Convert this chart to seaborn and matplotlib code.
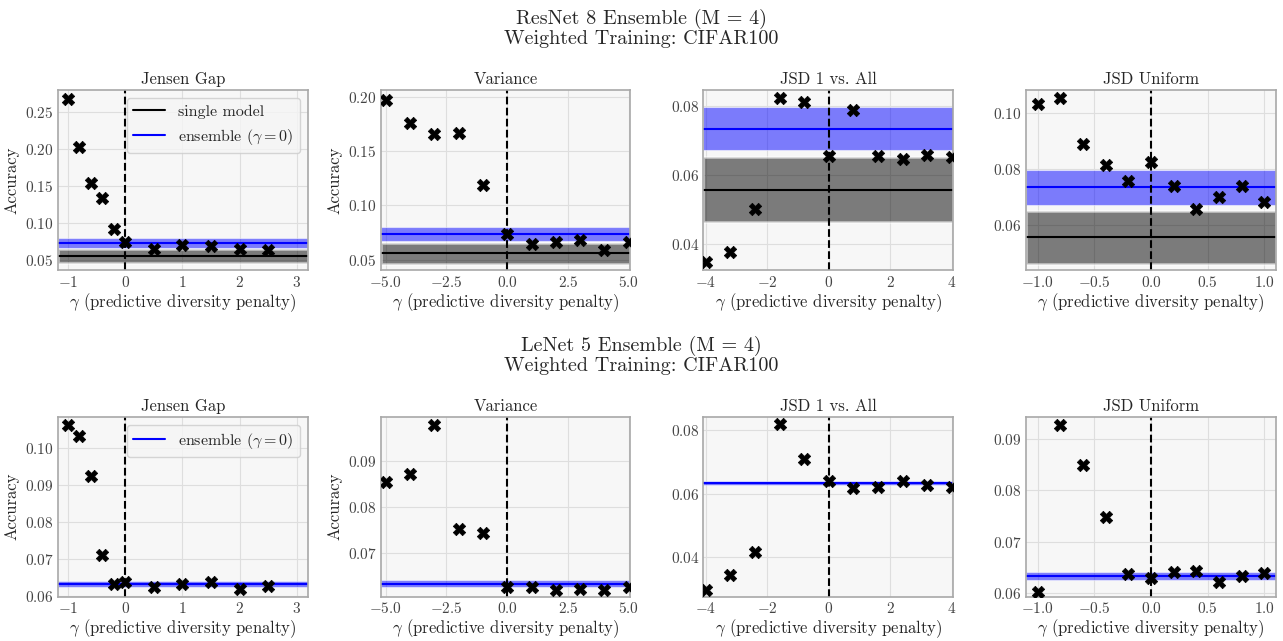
import matplotlib
matplotlib.use("Agg")
import matplotlib.pyplot as plt
import numpy as np
import seaborn as sns

# gamma grids per penalty
jensen_gammas = [-1.0, -0.8, -0.6, -0.4, -0.2, 0.0, 0.5, 1.0, 1.5, 2.0, 2.5]
variance_gammas = [-5, -4, -3, -2, -1, 0, 1, 2, 3, 4, 5]
jsd1_gammas = [-4.0, -3.2, -2.4, -1.6, -0.8, 0.0, 0.8, 1.6, 2.4, 3.2, 4.0]
jsdu_gammas = [-1.0, -0.8, -0.6, -0.4, -0.2, 0.0, 0.2, 0.4, 0.6, 0.8, 1.0]

# ResNet 8 accuracies
resnet_jensen = [0.268, 0.2034, 0.1545, 0.1348, 0.0922, 0.0751, 0.0661, 0.0706, 0.0697, 0.0661, 0.0648]
resnet_variance = [0.197, 0.1764, 0.1663, 0.1669, 0.1189, 0.0739, 0.0647, 0.0662, 0.0681, 0.0589, 0.0662]
resnet_jsd1 = [0.0347, 0.0377, 0.0503, 0.0824, 0.0813, 0.0657, 0.0790, 0.0657, 0.0647, 0.0658, 0.0654]
resnet_jsdu = [0.1033, 0.1053, 0.0892, 0.0814, 0.0757, 0.0826, 0.0741, 0.0659, 0.0700, 0.0741, 0.0685]

# LeNet 5 accuracies
lenet_jensen = [0.1064, 0.1032, 0.0924, 0.0711, 0.0633, 0.0638, 0.0625, 0.0633, 0.0639, 0.0620, 0.0628]
lenet_variance = [0.0854, 0.0871, 0.0978, 0.0752, 0.0742, 0.0626, 0.0626, 0.0620, 0.0621, 0.0620, 0.0625]
lenet_jsd1 = [0.0296, 0.0342, 0.0415, 0.0819, 0.0709, 0.0641, 0.0618, 0.0622, 0.0640, 0.0628, 0.0621]
lenet_jsdu = [0.0601, 0.0928, 0.0849, 0.0749, 0.0637, 0.0629, 0.0640, 0.0643, 0.0622, 0.0633, 0.0639]

# baselines (mean, std)
resnet_single = (0.0558, 0.0095)
resnet_ensemble = (0.0736, 0.0062)
lenet_ensemble = (0.0633, 0.0007)

titles = ["Jensen Gap", "Variance", "JSD 1 vs. All", "JSD Uniform"]
gammas = [jensen_gammas, variance_gammas, jsd1_gammas, jsdu_gammas]
xlims = [(-1.175, 3.19), (-5.2, 5.07), (-4.08, 4.05), (-1.103, 1.103)]
xticks = [[-1, 0, 1, 2, 3], [-5.0, -2.5, 0.0, 2.5, 5.0], [-4, -2, 0, 2, 4], [-1.0, -0.5, 0.0, 0.5, 1.0]]

rows = [
    dict(name="ResNet 8 Ensemble (M = 4)", accs=[resnet_jensen, resnet_variance, resnet_jsd1, resnet_jsdu],
         single=resnet_single, ensemble=resnet_ensemble,
         ylims=[(0.0365, 0.280), (0.0399, 0.2067), (0.0323, 0.0848), (0.0439, 0.1083)],
         yticks=[[0.05, 0.10, 0.15, 0.20, 0.25], [0.05, 0.10, 0.15, 0.20], [0.04, 0.06, 0.08], [0.06, 0.08, 0.10]]),
    dict(name="LeNet 5 Ensemble (M = 4)", accs=[lenet_jensen, lenet_variance, lenet_jsd1, lenet_jsdu],
         single=None, ensemble=lenet_ensemble,
         ylims=[(0.0598, 0.1086), (0.0604, 0.0996), (0.0273, 0.0844), (0.0592, 0.0944)],
         yticks=[[0.06, 0.07, 0.08, 0.09, 0.10], [0.07, 0.08, 0.09], [0.04, 0.06, 0.08], [0.06, 0.07, 0.08, 0.09]]),
]

sns.set_style("whitegrid", rc={
    "axes.facecolor": "#f7f7f7",
    "axes.edgecolor": "#a8a8a8",
    "grid.color": "#dedede",
    "xtick.color": "#444444",
    "ytick.color": "#444444",
})
plt.rcParams["font.family"] = "cmr10"
plt.rcParams["mathtext.fontset"] = "cm"
plt.rcParams["axes.formatter.use_mathtext"] = True

fig, axes = plt.subplots(2, 4, figsize=(12.83, 6.41), dpi=100)
fig.subplots_adjust(left=0.0452, right=0.9945, top=0.8596, bottom=0.0686, wspace=0.292, hspace=0.809)

for r, row in enumerate(rows):
    for c in range(4):
        ax = axes[r, c]
        if row["single"] is not None:
            m, s = row["single"]
            ax.axhspan(m - s, m + s, color="black", alpha=0.5, ec="white", lw=2)
            ax.axhline(m, color="black", lw=1.5, label="single model")
        m, s = row["ensemble"]
        ax.axhspan(m - s, m + s, color="blue", alpha=0.5, ec="white", lw=0.8)
        ax.axhline(m, color="blue", lw=1.5, label=r"ensemble ($\gamma = 0$)")
        ax.axvline(0, color="black", ls="--", lw=1.5)
        sns.scatterplot(x=gammas[c], y=row["accs"][c], ax=ax, marker="X", color="black",
                        s=80, edgecolor="black", linewidth=0.5, zorder=5, legend=False)
        ax.set_xlim(*xlims[c])
        ax.set_ylim(*row["ylims"][c])
        ax.set_xticks(xticks[c])
        ax.set_yticks(row["yticks"][c])
        ax.set_title(titles[c], fontsize=12, pad=4)
        ax.set_xlabel(r"$\gamma$ (predictive diversity penalty)", fontsize=12, labelpad=1)
        if c < 2:
            ax.set_ylabel("Accuracy", fontsize=12)
        ax.tick_params(labelsize=11, length=0, pad=3)
        for sp in ax.spines.values():
            sp.set_linewidth(1.2)
        if c == 0:
            ax.legend(loc="upper right", fontsize=11.5, frameon=True, framealpha=0.8,
                      facecolor="#f5f5f5", edgecolor="#cccccc")

fig.text(0.5, 0.956, rows[0]["name"] + "\nWeighted Training: CIFAR100", ha="center", va="center",
         fontsize=14.5, linespacing=1.1)
fig.text(0.5, 0.4454, rows[1]["name"] + "\nWeighted Training: CIFAR100", ha="center", va="center",
         fontsize=14.5, linespacing=1.1)

plt.savefig("out.png", dpi=100)
plt.close(fig)
